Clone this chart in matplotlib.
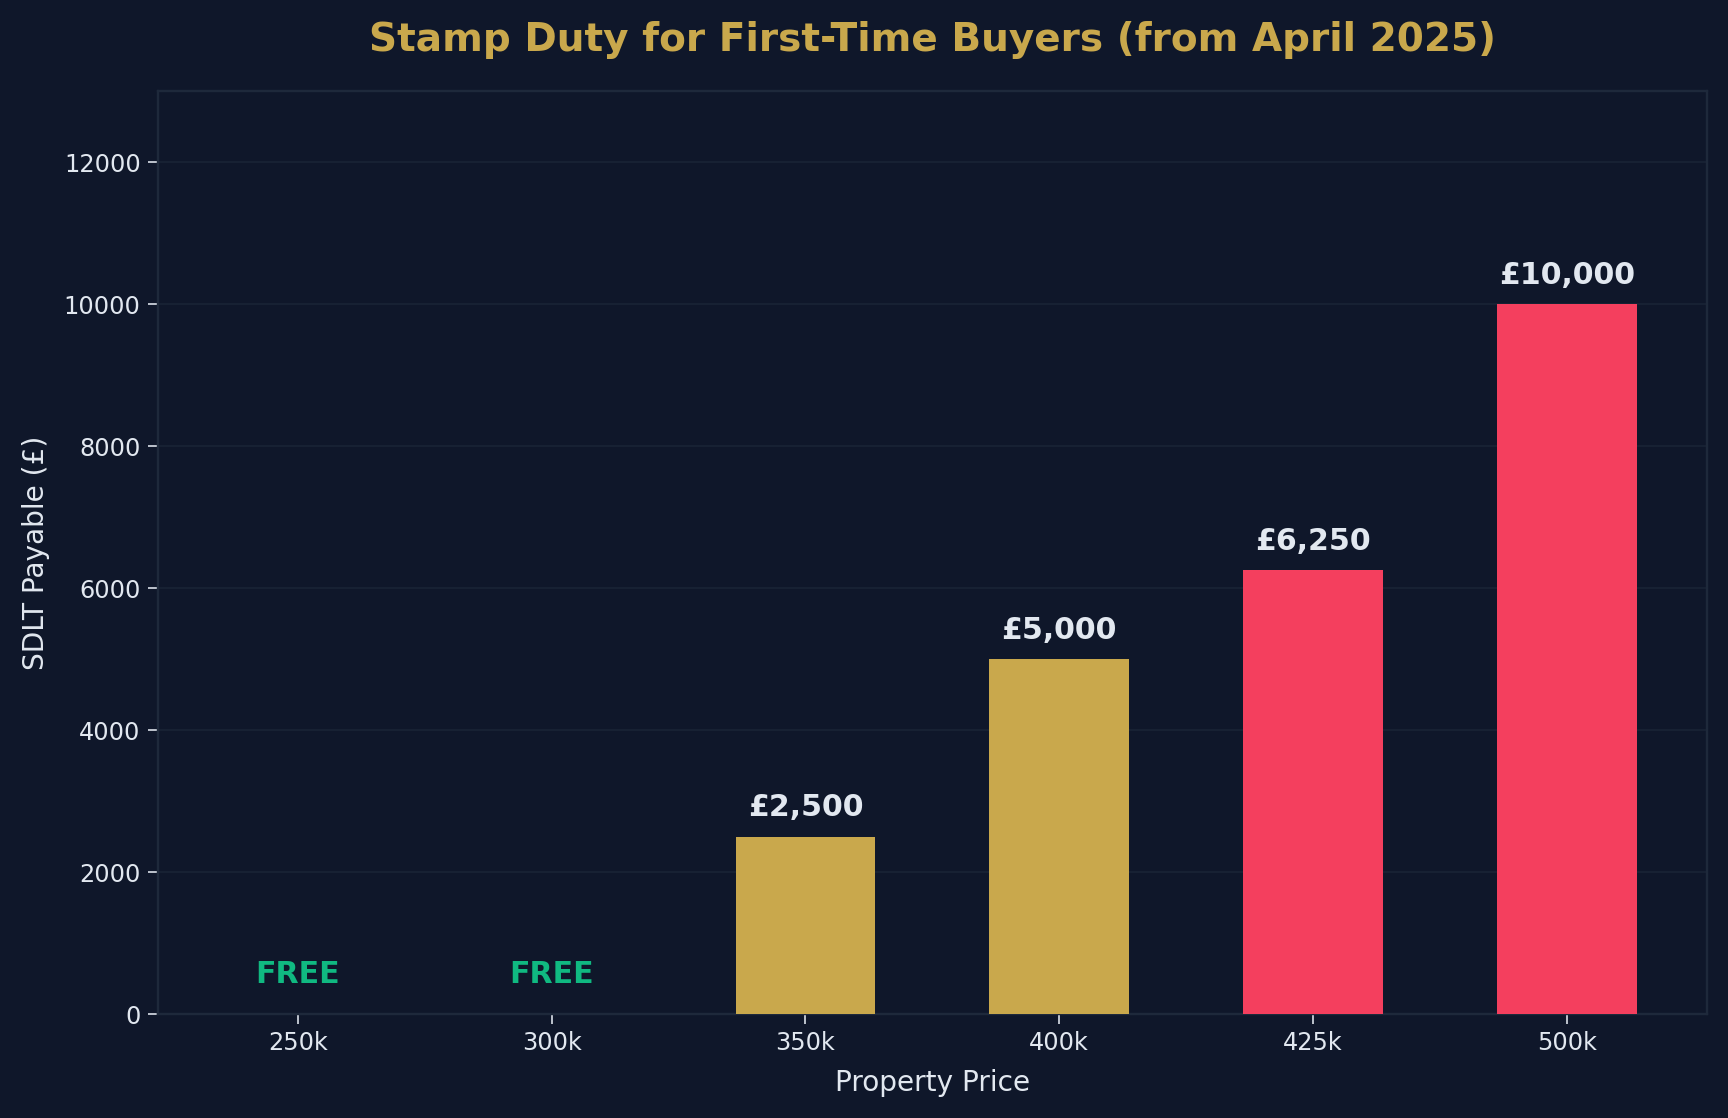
import matplotlib
matplotlib.use("Agg")
import matplotlib.pyplot as plt

prices = ["250k", "300k", "350k", "400k", "425k", "500k"]
sdlt = [0, 0, 2500, 5000, 6250, 10000]
bar_colors = ["#10b981", "#10b981", "#c9a84c", "#c9a84c", "#f43f5e", "#f43f5e"]

BG = "#0f172a"
GRID = "#1e293b"
TEXT = "#e2e8f0"
GOLD = "#c9a84c"
GREEN = "#10b981"

fig = plt.figure(figsize=(12, 1118 / 144), dpi=144, facecolor=BG)
ax = fig.add_axes([157.6 / 1728, 1 - 1014 / 1118, (1707 - 157.6) / 1728, (1014 - 91.5) / 1118])
ax.set_facecolor(BG)

x = list(range(len(prices)))
ax.bar(x, sdlt, width=0.55, color=bar_colors, zorder=3)
ax.set_ylim(0, 13000)
ax.set_xticks(x)
ax.set_xticklabels(prices)
ax.set_yticks([0, 2000, 4000, 6000, 8000, 10000, 12000])

for xi, v in zip(x, sdlt):
    if v == 0:
        ax.text(xi, 350, "FREE", ha="center", va="bottom", color=GREEN,
                fontsize=15, fontweight="bold", zorder=4)
    else:
        ax.text(xi, v + 200, f"£{v:,}", ha="center", va="bottom", color=TEXT,
                fontsize=15, fontweight="bold", zorder=4)

ax.grid(axis="y", color=GRID, linewidth=0.8, alpha=0.7, zorder=0)
ax.grid(axis="x", visible=False)
for s in ax.spines.values():
    s.set_color(GRID)
    s.set_linewidth(1.2)
ax.tick_params(colors=TEXT, labelsize=12, length=5)
ax.set_xlabel("Property Price", color=TEXT, fontsize=14, labelpad=7)
ax.set_ylabel("SDLT Payable (£)", color=TEXT, fontsize=14, labelpad=7)
ax.set_title("Stamp Duty for First-Time Buyers (from April 2025)", color=GOLD,
             fontsize=19.5, fontweight="bold", pad=20)

fig.savefig("out.png", dpi=144, facecolor=BG)
